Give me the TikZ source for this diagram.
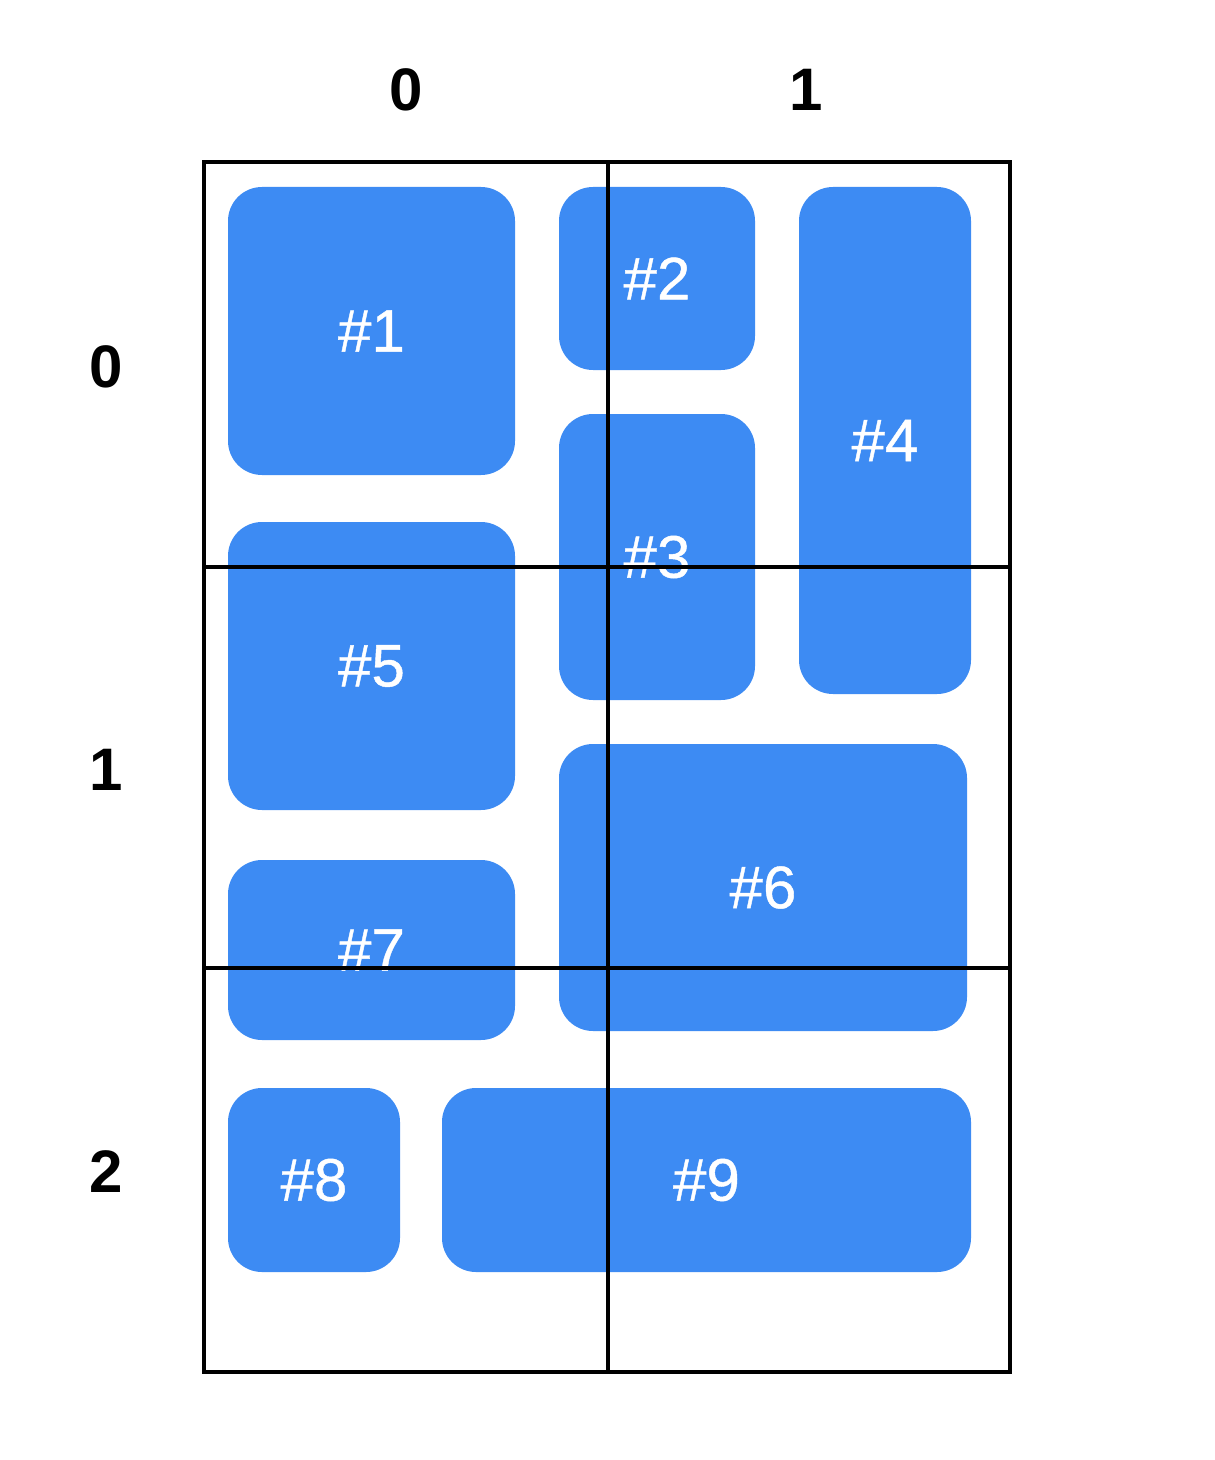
\documentclass[tikz,border=0pt]{standalone}
\usepackage{fontspec}
\setmainfont{Liberation Sans}
\newfontface\tilefont{Liberation Sans}[FakeBold=0.7]
\definecolor{tileblue}{RGB}{61,139,243}
\begin{document}
\begin{tikzpicture}[x=0.5pt,y=-0.5pt,
  tile/.style={fill=tileblue,draw=none,rounded corners=17pt,inner sep=0pt,
    text=white,font=\tilefont\fontsize{30}{36}\selectfont},
  axis/.style={font=\fontsize{30}{36}\selectfont\bfseries,text=black},
  gridline/.style={draw=black,line width=2pt}]
\useasboundingbox (0,0) rectangle (1214,1460);
% tiles
\node[tile,minimum width=143.5pt,minimum height=144pt] (t1) at (371.5,331) {\#1};
\node[tile,minimum width=98pt,minimum height=91.5pt] (t2) at (657,278.5) {\#2};
\node[tile,minimum width=98pt,minimum height=143pt] (t3) at (657,557) {\#3};
\node[tile,minimum width=86pt,minimum height=253.5pt] (t4) at (885,440.5) {\#4};
\node[tile,minimum width=143.5pt,minimum height=144pt] (t5) at (371.5,666) {\#5};
\node[tile,minimum width=204pt,minimum height=143.5pt] (t6) at (763,887.5) {\#6};
\node[tile,minimum width=143.5pt,minimum height=90pt] (t7) at (371.5,950) {\#7};
\node[tile,minimum width=86pt,minimum height=92pt] (t8) at (314,1180) {\#8};
\node[tile,minimum width=264.5pt,minimum height=92pt] (t9) at (706.5,1180) {\#9};
% grid
\coordinate (g00) at (204,162);
\coordinate (g11) at (1010,1372);
\draw[gridline] (g00) rectangle (g11);
\draw[gridline] (608,162) -- (608,1372);
\draw[gridline] (204,567) -- (1010,567);
\draw[gridline] (204,968) -- (1010,968);
% axis labels
\node[axis] (c0) at (406,90) {0};
\node[axis] (c1) at (806,90) {1};
\node[axis] (r0) at (106,367) {0};
\node[axis] (r1) at (106,770) {1};
\node[axis] (r2) at (106,1172) {2};
\end{tikzpicture}
\end{document}
